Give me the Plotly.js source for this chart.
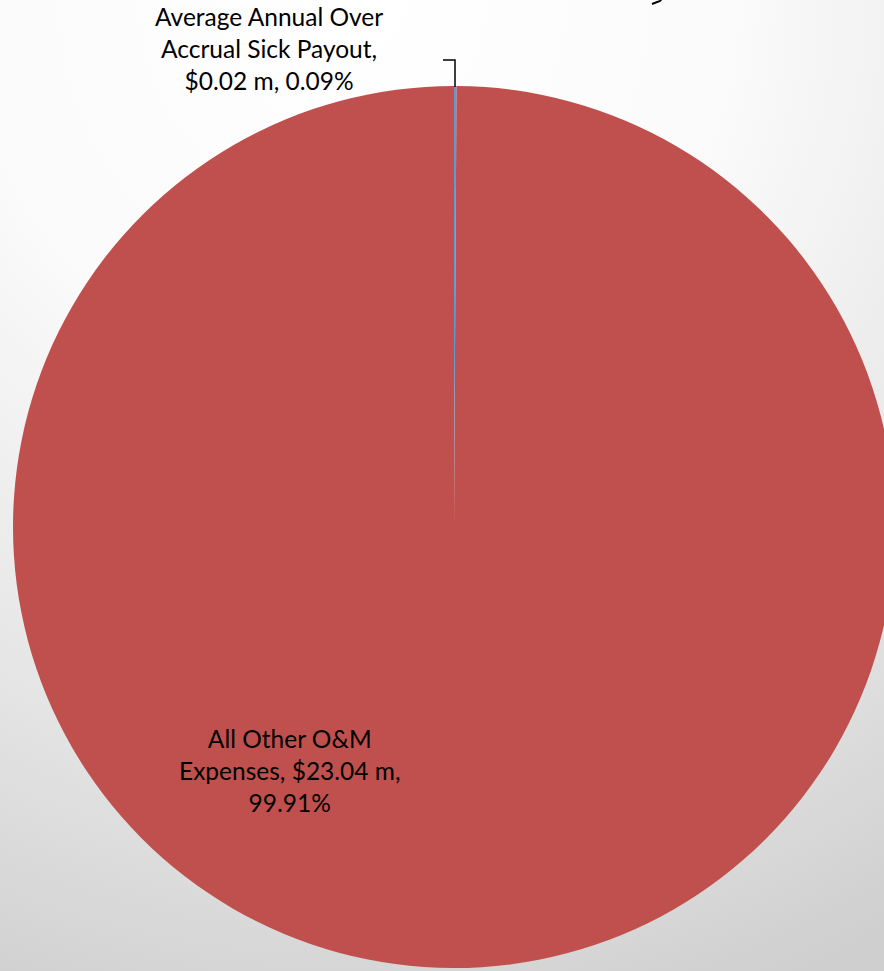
<!DOCTYPE html>
<html>
<head>
<meta charset="utf-8">
<script src="https://cdn.plot.ly/plotly-3.0.1.min.js"></script>
<style>
html,body{margin:0;padding:0;width:884px;height:971px;overflow:hidden;}
body{background:radial-gradient(ellipse 120% 110% at 40% 0%, #ffffff 0%, #fbfbfb 35%, #e6e6e6 70%, #cfcfcf 100%);}
#chart{width:910px;height:971px;}
</style>
</head>
<body>
<div id="chart"></div>
<script>
const categories = ["Average Annual Over Accrual Sick Payout", "All Other O&M Expenses"];
const valuesM = [0.02, 23.04];
const percents = ["0.09%", "99.91%"];
const colors = ["#5b9bd5", "#c0504d"];
const labelTexts = ["Average Annual Over<br>Accrual Sick Payout,<br>$0.02 m, 0.09%", "All Other O&M<br>Expenses, $23.04 m,<br>99.91%"];

const W = 910, H = 971;
const data = [{
  type: "pie",
  labels: categories,
  values: [0.09, 99.91],
  sort: false,
  direction: "clockwise",
  rotation: 0,
  marker: {colors: colors, line: {width: 0}},
  textinfo: "none",
  hoverinfo: "label+value+percent",
  domain: {x: [13/W, 895/W], y: [3/H, 885/H]},
  showlegend: false
}];
const font = {family: "Lato, 'Open Sans', sans-serif", size: 24.5, color: "#000"};
const layout = {
  width: W, height: H,
  margin: {l: 0, r: 0, t: 0, b: 0},
  paper_bgcolor: "rgba(0,0,0,0)",
  plot_bgcolor: "rgba(0,0,0,0)",
  showlegend: false,
  annotations: [
    {text: labelTexts[0], x: 269/W, y: 1 - 49/H, xref: "paper", yref: "paper", showarrow: false, font: font, align: "center", xanchor: "center", yanchor: "middle"},
    {text: labelTexts[1], x: 290/W, y: 1 - 770/H, xref: "paper", yref: "paper", showarrow: false, font: font, align: "center", xanchor: "center", yanchor: "middle"}
  ],
  shapes: [
    {type: "path", xref: "paper", yref: "paper", path: "M " + (443/W) + "," + (1-60/H) + " L " + (455/W) + "," + (1-60/H) + " L " + (455/W) + "," + (1-87/H), line: {color: "#000", width: 1.5}},
    {type: "path", xref: "paper", yref: "paper", path: "M " + (652/W) + "," + (1-4/H) + " L " + (660/W) + "," + (1-1/H) + " L " + (663/W) + "," + (1-(-3)/H), line: {color: "#000", width: 2}}
  ]
};
Plotly.newPlot("chart", data, layout, {displayModeBar: false, staticPlot: true});
</script>
</body>
</html>
